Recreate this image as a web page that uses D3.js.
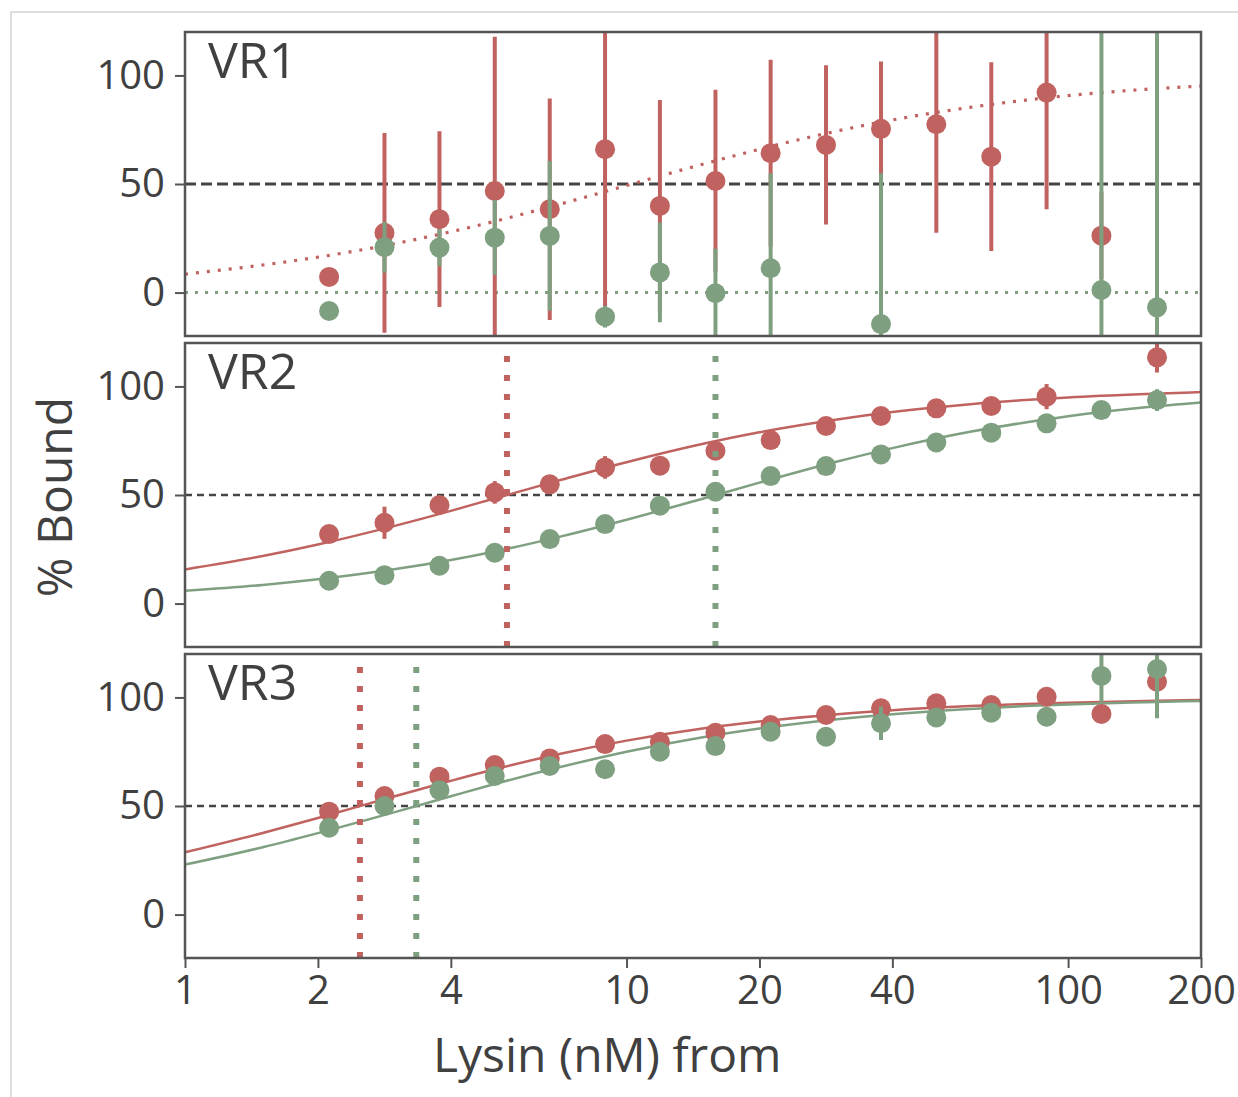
<!DOCTYPE html>
<html>
<head>
<meta charset="utf-8">
<script src="https://cdn.jsdelivr.net/npm/d3@7"></script>
<style>
  body { margin: 0; background: #fff; }
  text { font-family: "Open Sans", "Noto Sans", sans-serif; fill: #404040; }
</style>
</head>
<body>
<div class="d3-canvas"></div>
<script>
const WIDTH = 1238;
const HEIGHT = 1097;

const RED = '#c0625f';
const GREEN = '#7fa080';
const INK = '#404040';
const FRAME = '#555';

const conc = [2.12, 2.83, 3.77, 5.03, 6.70, 8.94, 11.9, 15.9, 21.2, 28.3, 37.7, 50.3, 67.0, 89.4, 119, 159];

// VR1
const vr1Red = [7.2, 27.5, 33.8, 46.8, 38.4, 66.0, 39.9, 51.4, 64.2, 68.0, 75.4, 77.5, 62.6, 92.1, 26.2, null];
const vr1RedErr = [3, 46, 40.5, 71, 51, 78, 48.8, 42, 43, 36.7, 31, 50, 43.5, 53.7, 20, null];
const vr1Green = [-8.5, 20.9, 20.7, 25.3, 26.1, -11.1, 9.3, -0.3, 11.2, -24.5, -14.5, null, null, null, 1.2, -6.8];
const vr1GreenErr = [4, 11.7, 8.5, 17.3, 34.5, 5, 23, 20.5, 43.7, 3, 69.5, null, null, null, 130, 130];

// VR2
const vr2Red = [32.0, 37.2, 45.4, 51.2, 54.9, 62.7, 63.5, 70.4, 75.3, 81.8, 86.4, 89.9, 91.0, 95.3, null, 113.4];
const vr2RedErr = [1.5, 7.4, 1.5, 5.2, 1.5, 5.2, 1.5, 1.5, 1.5, 1.5, 1.5, 1.5, 1.5, 5.8, null, 7];
const vr2Green = [10.5, 13.1, 17.4, 23.4, 29.7, 36.6, 45.1, 51.5, 58.7, 63.3, 68.7, 74.2, 78.7, 83.0, 89.1, 93.7];
const vr2GreenErr = [1.5, 1.5, 1.5, 1.5, 1.5, 1.5, 1.5, 1.5, 1.5, 1.5, 1.5, 1.5, 1.5, 1.5, 1.5, 5];

// VR3
const vr3Red = [47.4, 54.6, 63.5, 68.9, 71.9, 78.5, 79.6, 83.7, 87.3, 91.9, 95.0, 97.3, 96.5, 100.3, 92.4, 107.2];
const vr3RedErr = [1.5, 3, 1.5, 1.5, 1.5, 1.5, 1.5, 1.5, 1.5, 1.5, 1.5, 1.5, 1.5, 1.5, 1.5, 5];
const vr3Green = [40.0, 50.0, 57.3, 63.8, 68.4, 66.9, 75.0, 77.6, 84.2, 81.9, 88.1, 90.8, 93.0, 91.1, 109.9, 113.1];
const vr3GreenErr = [1.5, 1.5, 1.5, 1.5, 1.5, 1.5, 1.5, 1.5, 1.5, 1.5, 7.7, 1.5, 1.5, 1.5, 12, 22.7];

// fitted curves at these concentrations
const fitX = [1, 1.5, 2, 3, 4, 5, 7, 10, 15, 20, 30, 40, 60, 80, 100, 150, 200];
const vr1RedFit = [8.5, 12.7, 16.3, 22.6, 28.0, 32.7, 40.5, 49.3, 59.3, 66.0, 74.4, 79.5, 85.3, 88.6, 90.7, 93.6, 95.1];
const vr1GreenFit = [0, 0, 0, 0, 0, 0, 0, 0, 0, 0, 0, 0, 0, 0, 0, 0, 0];
const vr2RedFit = [15.7, 21.9, 27.2, 35.9, 42.7, 48.3, 56.6, 65.1, 73.7, 78.9, 84.8, 88.2, 91.8, 93.7, 94.9, 96.5, 97.4];
const vr2GreenFit = [5.9, 8.6, 11.2, 15.9, 20.1, 23.9, 30.6, 38.6, 48.5, 55.7, 65.4, 71.6, 79.1, 83.4, 86.3, 90.4, 92.6];
const vr3RedFit = [28.7, 37.6, 44.5, 54.6, 61.6, 66.8, 73.8, 80.1, 85.8, 88.9, 92.3, 94.1, 96.0, 97.0, 97.6, 98.4, 98.8];
const vr3GreenFit = [23.0, 31.0, 37.5, 47.3, 54.5, 60.0, 67.7, 75.0, 81.8, 85.7, 90.0, 92.3, 94.7, 96.0, 96.8, 97.8, 98.4];

// half-maximal concentrations marked by the vertical dotted lines
const vr2Ec50 = [5.36, 15.9];
const vr3Ec50 = [2.49, 3.34];

const xTicks = [1, 2, 4, 10, 20, 40, 100, 200];
const yTicks = [0, 50, 100];

const panels = [
    {name: 'VR1', red: vr1Red, redErr: vr1RedErr, green: vr1Green, greenErr: vr1GreenErr,
        redFit: vr1RedFit, greenFit: vr1GreenFit, dotted: true, ec50: null},
    {name: 'VR2', red: vr2Red, redErr: vr2RedErr, green: vr2Green, greenErr: vr2GreenErr,
        redFit: vr2RedFit, greenFit: vr2GreenFit, dotted: false, ec50: vr2Ec50},
    {name: 'VR3', red: vr3Red, redErr: vr3RedErr, green: vr3Green, greenErr: vr3GreenErr,
        redFit: vr3RedFit, greenFit: vr3GreenFit, dotted: false, ec50: vr3Ec50}
];

const margin = {left: 185, right: 37, top: 32};
const panelHeight = 304;
const panelGap = 7;
const chartWidth = WIDTH - margin.left - margin.right;

const svg = d3.select('.d3-canvas')
    .append('svg')
        .attr('width', WIDTH)
        .attr('height', HEIGHT);

// light frame around the figure
svg.append('path')
    .attr('d', `M11,${HEIGHT} L11,12 L${WIDTH},12`)
    .attr('fill', 'none')
    .attr('stroke', '#d4d4d4')
    .attr('stroke-width', 1.5);

const x = d3.scaleLog()
    .domain([1, 200])
    .range([0, chartWidth]);

const y = d3.scaleLinear()
    .domain([-20, 120])
    .range([panelHeight, 0]);

const fitLine = d3.line()
    .x(d => x(d[0]))
    .y(d => y(d[1]))
    .curve(d3.curveMonotoneX);

function drawSeries(g, values, errs, color) {
    const pts = conc.map((c, i) => ({c, v: values[i], e: errs[i]}))
        .filter(d => d.v !== null);

    g.selectAll(null)
        .data(pts)
        .enter()
        .append('line')
            .attr('x1', d => x(d.c))
            .attr('x2', d => x(d.c))
            .attr('y1', d => y(d.v - d.e))
            .attr('y2', d => y(d.v + d.e))
            .attr('stroke', color)
            .attr('stroke-width', 4);

    g.selectAll(null)
        .data(pts)
        .enter()
        .append('circle')
            .attr('cx', d => x(d.c))
            .attr('cy', d => y(d.v))
            .attr('r', 10)
            .attr('fill', color);
}

panels.forEach((p, k) => {
    const top = margin.top + k * (panelHeight + panelGap);
    const chart = svg.append('g')
        .attr('transform', `translate(${margin.left}, ${top})`);

    chart.append('clipPath')
        .attr('id', `clip${k}`)
        .append('rect')
            .attr('width', chartWidth)
            .attr('height', panelHeight);

    const inner = chart.append('g')
        .attr('clip-path', `url(#clip${k})`);

    // 50 % reference line
    inner.append('line')
        .attr('x1', 0)
        .attr('x2', chartWidth)
        .attr('y1', y(50))
        .attr('y2', y(50))
        .attr('stroke', '#444')
        .attr('stroke-width', p.dotted ? 3 : 2.4)
        .attr('stroke-dasharray', p.dotted ? '11 5' : '7 5');

    // fitted curves
    inner.append('path')
        .datum(fitX.map((c, i) => [c, p.redFit[i]]))
        .attr('d', fitLine)
        .attr('fill', 'none')
        .attr('stroke', RED)
        .attr('stroke-width', p.dotted ? 3.2 : 2.5)
        .attr('stroke-dasharray', p.dotted ? '3 8' : null);

    inner.append('path')
        .datum(fitX.map((c, i) => [c, p.greenFit[i]]))
        .attr('d', fitLine)
        .attr('fill', 'none')
        .attr('stroke', GREEN)
        .attr('stroke-width', p.dotted ? 3 : 2.5)
        .attr('stroke-dasharray', p.dotted ? '3 7' : null);

    drawSeries(inner, p.red, p.redErr, RED);
    drawSeries(inner, p.green, p.greenErr, GREEN);

    // EC50 markers
    if (p.ec50) {
        inner.selectAll(null)
            .data(p.ec50)
            .enter()
            .append('line')
                .attr('x1', d => x(d))
                .attr('x2', d => x(d))
                .attr('y1', panelHeight)
                .attr('y2', 0)
                .attr('stroke', (d, i) => i === 0 ? RED : GREEN)
                .attr('stroke-width', 6)
                .attr('stroke-dasharray', '6 13');
    }

    // y axis
    const yAxisGroup = chart.append('g')
        .call(d3.axisLeft(y).tickValues(yTicks).tickSize(10).tickPadding(10));
    yAxisGroup.select('.domain').remove();
    yAxisGroup.selectAll('line').attr('stroke', FRAME).attr('stroke-width', 2);
    yAxisGroup.selectAll('text')
        .attr('font-size', 40)
        .attr('fill', INK)
        .style('font-family', '"Open Sans", sans-serif');

    // x axis only on the bottom panel
    if (k === panels.length - 1) {
        const xAxisGroup = chart.append('g')
            .attr('transform', `translate(0, ${panelHeight})`)
            .call(d3.axisBottom(x).tickValues(xTicks).tickFormat(d3.format('d')).tickSize(10).tickPadding(8));
        xAxisGroup.select('.domain').remove();
        xAxisGroup.selectAll('line').attr('stroke', FRAME).attr('stroke-width', 2);
        xAxisGroup.selectAll('text')
            .attr('font-size', 40)
            .attr('fill', INK)
            .style('font-family', '"Open Sans", sans-serif');
    }

    // panel frame
    chart.append('rect')
        .attr('width', chartWidth)
        .attr('height', panelHeight)
        .attr('fill', 'none')
        .attr('stroke', FRAME)
        .attr('stroke-width', 2.5);

    chart.append('text')
        .attr('x', 23)
        .attr('y', 46)
        .attr('font-size', 50)
        .text(p.name);
});

// axis titles
svg.append('text')
    .attr('transform', 'translate(72, 497) rotate(-90)')
    .attr('text-anchor', 'middle')
    .attr('font-size', 48)
    .text('% Bound');

svg.append('text')
    .attr('x', 433)
    .attr('y', 1072)
    .attr('font-size', 48)
    .text('Lysin (nM) from');
</script>
</body>
</html>
